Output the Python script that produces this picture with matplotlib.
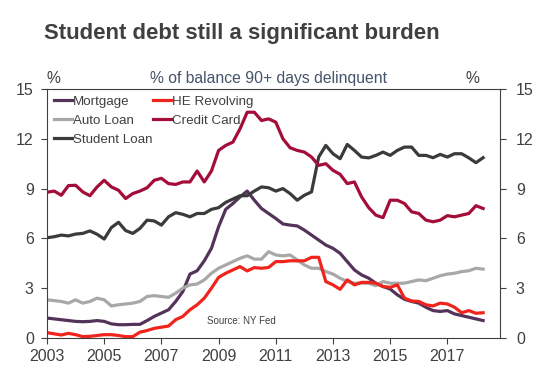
import matplotlib
matplotlib.use('Agg')
import matplotlib.pyplot as plt
import numpy as np

plt.rcParams['font.family'] = ['Liberation Sans', 'DejaVu Sans']

# quarterly, 2003Q1 .. 2018Q2
quarters = 2003 + np.arange(62) * 0.25

mortgage = [1.2, 1.15, 1.1, 1.05, 1.0, 0.98, 1.0, 1.05, 1.0, 0.85, 0.8, 0.8,
            0.82, 0.82, 1.05, 1.3, 1.5, 1.7, 2.2, 2.8, 3.85, 4.05, 4.65, 5.4,
            6.7, 7.75, 8.1, 8.5, 8.85, 8.3, 7.8, 7.5, 7.2, 6.87, 6.8, 6.75,
            6.5, 6.2, 5.9, 5.6, 5.4, 5.1, 4.6, 4.1, 3.8, 3.6, 3.3, 3.1,
            2.95, 2.6, 2.33, 2.2, 2.1, 1.85, 1.65, 1.6, 1.65, 1.45, 1.35, 1.25,
            1.15, 1.05]
he_revolving = [0.32, 0.25, 0.18, 0.28, 0.2, 0.08, 0.1, 0.15, 0.2, 0.2, 0.15, 0.08,
                0.08, 0.35, 0.45, 0.58, 0.65, 0.72, 1.1, 1.3, 1.7, 2.0, 2.4, 3.0,
                3.65, 3.9, 4.1, 4.3, 4.04, 4.24, 4.2, 4.25, 4.6, 4.6, 4.65, 4.65,
                4.65, 4.86, 4.86, 3.4, 3.2, 2.93, 3.5, 3.2, 3.35, 3.35, 3.3, 3.1,
                3.05, 3.2, 2.4, 2.23, 2.2, 2.0, 1.93, 2.1, 2.05, 1.85, 1.52, 1.65,
                1.49, 1.52]
auto_loan = [2.3, 2.25, 2.2, 2.1, 2.3, 2.1, 2.2, 2.4, 2.3, 1.93, 2.0, 2.05,
             2.1, 2.2, 2.5, 2.55, 2.5, 2.45, 2.7, 3.0, 3.2, 3.25, 3.5, 3.9,
             4.2, 4.4, 4.6, 4.8, 4.95, 4.75, 4.75, 5.2, 5.0, 4.95, 5.0, 4.7,
             4.4, 4.2, 4.2, 4.0, 3.85, 3.6, 3.4, 3.3, 3.3, 3.3, 3.15, 3.4,
             3.3, 3.3, 3.3, 3.4, 3.5, 3.45, 3.6, 3.75, 3.85, 3.9, 4.0, 4.05,
             4.2, 4.15]
credit_card = [8.78, 8.85, 8.6, 9.18, 9.2, 8.8, 8.57, 9.1, 9.5, 9.1, 8.9, 8.4,
               8.7, 8.85, 9.05, 9.5, 9.62, 9.3, 9.25, 9.4, 9.4, 10.06, 9.4, 10.06,
               11.3, 11.6, 11.8, 12.6, 13.6, 13.6, 13.1, 13.2, 13.0, 12.0, 11.46, 11.3,
               11.2, 10.9, 10.4, 10.5, 10.1, 9.86, 9.3, 9.4, 8.5, 7.85, 7.4, 7.25,
               8.3, 8.3, 8.1, 7.6, 7.5, 7.1, 7.0, 7.1, 7.37, 7.3, 7.4, 7.5,
               7.97, 7.8]
student_loan = [6.04, 6.1, 6.2, 6.15, 6.26, 6.3, 6.45, 6.25, 5.96, 6.65, 6.97, 6.47,
                6.3, 6.6, 7.1, 7.05, 6.8, 7.3, 7.55, 7.45, 7.3, 7.5, 7.5, 7.75,
                7.85, 8.17, 8.37, 8.57, 8.57, 8.85, 9.1, 9.05, 8.85, 9.0, 8.7, 8.3,
                8.6, 8.8, 10.9, 11.6, 11.1, 10.8, 11.66, 11.3, 10.9, 10.85, 11.0, 11.2,
                11.0, 11.3, 11.5, 11.5, 11.0, 11.0, 10.86, 11.06, 10.9, 11.1, 11.1, 10.85,
                10.56, 10.86]

year_ticks = [2003, 2005, 2007, 2009, 2011, 2013, 2015, 2017]
y_ticks = [0, 3, 6, 9, 12, 15]

text_col = '#404040'

fig = plt.figure(figsize=(5.39, 3.75), dpi=100)
ax = fig.add_axes([0.0872, 0.0987, 0.8404, 0.664])

lw = 2.3
ax.plot(quarters, mortgage, color='#54335a', lw=lw, label='Mortgage')
ax.plot(quarters, auto_loan, color='#a8a8a8', lw=lw, label='Auto Loan')
ax.plot(quarters, student_loan, color='#3b3b3b', lw=lw, label='Student Loan')
ax.plot(quarters, he_revolving, color='#f0241c', lw=lw, label='HE Revolving')
ax.plot(quarters, credit_card, color='#a30d38', lw=lw, label='Credit Card')

ax.set_xlim(2003, 2018.84)
ax.set_ylim(0, 15)
ax.set_xticks(year_ticks)
ax.set_xticklabels([str(y) for y in year_ticks])
ax.set_yticks(y_ticks)
ax.tick_params(axis='both', colors=text_col, labelsize=11.5, length=4.5, width=0.8)
ax.tick_params(axis='y', pad=5)
for s in ax.spines.values():
    s.set_color(text_col)
    s.set_linewidth(0.8)

# right hand axis labels
ax2 = ax.twinx()
ax2.set_ylim(0, 15)
ax2.set_yticks(y_ticks)
ax2.tick_params(axis='y', colors=text_col, labelsize=11.5, length=4.5, width=0.8, pad=7)
for s in ax2.spines.values():
    s.set_visible(False)

leg = ax.legend(ncol=2, loc='upper left', frameon=False, fontsize=9.6,
                handlelength=1.35, handletextpad=0.1, columnspacing=0.0,
                labelspacing=0.5, borderaxespad=0.1, bbox_to_anchor=(0.0, 1.0))
for t in leg.get_texts():
    t.set_color(text_col)

fig.text(0.081, 0.91, 'Student debt still a significant burden', fontsize=15.9,
         fontweight='bold', color=text_col, va='center', ha='left')
fig.text(0.1, 0.79, '%', fontsize=11.3, color=text_col, ha='center', va='center')
fig.text(0.498, 0.79, '% of balance 90+ days delinquent', fontsize=11.3,
         color='#44546a', ha='center', va='center')
fig.text(0.877, 0.79, '%', fontsize=11.3, color=text_col, ha='center', va='center')
ax.text(0.353, 0.07, 'Source: NY Fed', transform=ax.transAxes, fontsize=7,
        color=text_col, ha='left', va='center')

fig.savefig('out.png', dpi=100)
